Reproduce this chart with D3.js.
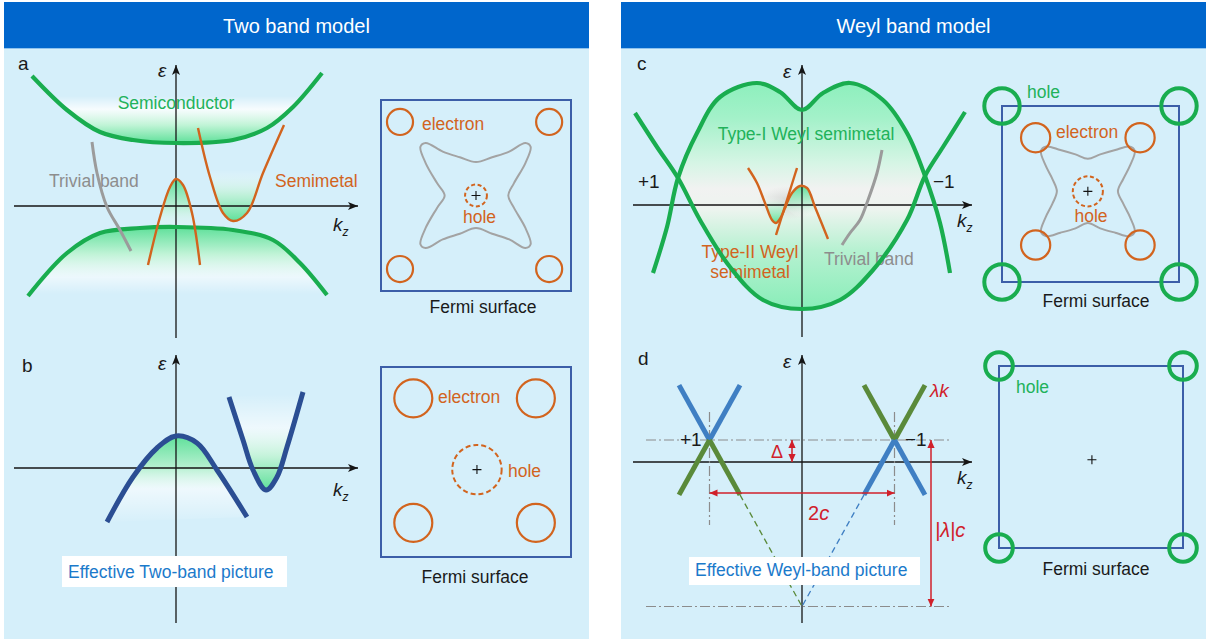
<!DOCTYPE html>
<html>
<head>
<meta charset="utf-8">
<script src="https://cdn.jsdelivr.net/npm/d3@7/dist/d3.min.js"></script>
<style>
html, body { margin: 0; padding: 0; background: #fff; }
svg { display: block; }
text { font-family: "Liberation Sans", Arial, Helvetica, sans-serif; }
</style>
</head>
<body>
<svg id="fig" width="1209" height="639"></svg>
<script>
// ---------------- text ----------------
const headerTitles = ["Two band model", "Weyl band model"];
const panelLetters = ["a", "b", "c", "d"];

// ---------------- band data: [k_z, energy] in plot units ----------------
// a: semiconductor, semimetal and trivial bands
const semiconductorUpper = [[-14.4,13.0],[-10.9,9.6],[-7.6,7.4],[-4.3,6.6],[0,6.3],[5.7,6.6],[9.1,7.8],[11.7,9.9],[14.6,13.3]];
const semiconductorLower = [[-14.8,-9.0],[-10.9,-4.7],[-7.6,-2.7],[-3.6,-2.2],[0,-2.1],[5.7,-2.4],[9.7,-3.4],[12.4,-5.7],[15.1,-8.9]];
const trivialBandA = [[-8.4,6.4],[-7.9,3.3],[-6.9,-0.1],[-5.6,-2.4],[-4.5,-4.5]];
const semimetalHole = [[-2.8,-5.9],[-1.6,-1.1],[-0.6,1.9],[0,2.7],[0.7,2.1],[1.6,-0.7],[2.4,-5.9]];
const semimetalElectron = [[2.2,7.8],[3.4,2.9],[4.7,-0.7],[5.7,-1.5],[7.1,-0.7],[8.7,3.3],[10.8,8.1]];

// b: effective two-band picture
const effectiveHole = [[-6.9,-5.4],[-4.3,-0.9],[-1.9,2.0],[0,3.2],[2.1,2.5],[4.1,-0.2],[7.1,-4.9]];
const effectiveElectron = [[5.3,7.1],[6.7,2.8],[7.7,-0.2],[9.0,-2.2],[10.1,-0.9],[11.1,2.1],[12.7,7.6]];

// c: Weyl semimetal bands
const weylUpper = [[-14.9,-6.8],[-13.5,-2.2],[-12.4,2.7],[-10.5,7.2],[-8.2,10.8],[-4.5,12.2],[-2.2,11.3],[0,9.5],[2.1,11.2],[4.8,12.2],[8.1,10.5],[10.5,7.2],[12.3,2.9],[13.8,-1.8],[14.8,-6.8]];
const weylLower = [[-16.7,9.2],[-14.5,5.8],[-12.4,2.7],[-10.2,-1.5],[-7.2,-6.2],[-3.9,-9.5],[0,-10.4],[3.8,-9.5],[7.1,-6.5],[10.5,-1.5],[12.3,2.9],[14.1,5.8],[16.3,9.3]];
const typeIIValley = [[-5.4,3.7],[-4.5,2.2],[-3.7,0.2],[-3.0,-1.5],[-2.6,-1.8],[-2.1,-1.2],[-1.5,0.3]];
const typeIILine = [[-2.6,-3.0],[-0.5,3.7]];
const typeIIHump = [[-1.7,-0.3],[-1.0,1.2],[-0.2,1.9],[0.5,1.7],[1.3,-0.2],[2.6,-3.4]];
const trivialBandC = [[8.0,5.5],[7.5,3.2],[6.6,0.5],[5.8,-1.5],[4.8,-2.8],[4.0,-4.0]];

// d: effective Weyl-band picture
const weylNodeK = [-9.25, 9.25];
const chiralityLabels = ["+1", "\u22121"];
const nodeEnergy = 2.2;      // Delta
const tiltSlope = 1.8;       // |lambda|
const coneHalfWidth = 3.05;  // extent of each cone arm along k_z

// ---------------- Fermi surfaces: Brillouin-zone units, box spans [-1, 1] ----------------
const fsA_electrons = [[-0.80,0.77],[0.77,0.77],[-0.80,-0.77],[0.77,-0.77]];
const fsA_electronR = 0.137;
const fsA_hole = [0, 0, 0.115];
const fsA_trivial = [[0,0.35],[0.17,0.40],[0.35,0.46],[0.52,0.55],[0.575,0.51],[0.52,0.34],[0.40,0.13],[0.34,0],[0.40,-0.13],[0.52,-0.34],[0.575,-0.51],[0.52,-0.55],[0.35,-0.46],[0.17,-0.40],[0,-0.34],[-0.17,-0.40],[-0.35,-0.46],[-0.53,-0.55],[-0.585,-0.51],[-0.53,-0.34],[-0.41,-0.13],[-0.33,0],[-0.41,0.13],[-0.53,0.34],[-0.585,0.51],[-0.53,0.55],[-0.35,0.46],[-0.17,0.40]];

const fsB_electrons = [[-0.66,0.67],[0.63,0.67],[-0.66,-0.64],[0.63,-0.64]];
const fsB_electronR = 0.2;
const fsB_hole = [0.01, -0.08, 0.26];

const fsC_holes = [[-1,1],[1,1],[-1,-1],[1,-1]];
const fsC_holeR = 0.2;
const fsC_electrons = [[-0.62,0.64],[0.56,0.64],[-0.62,-0.58],[0.56,-0.58]];
const fsC_electronR = 0.165;
const fsC_hole = [-0.03, 0.03, 0.17];
const fsC_trivial = [[0,0.37],[0.14,0.42],[0.31,0.47],[0.47,0.51],[0.53,0.46],[0.48,0.30],[0.40,0.14],[0.34,0],[0.40,-0.14],[0.48,-0.30],[0.53,-0.46],[0.47,-0.51],[0.31,-0.47],[0.14,-0.42],[0,-0.36],[-0.14,-0.42],[-0.31,-0.47],[-0.47,-0.51],[-0.53,-0.46],[-0.48,-0.30],[-0.40,-0.14],[-0.35,0],[-0.40,0.14],[-0.48,0.30],[-0.53,0.46],[-0.47,0.51],[-0.31,0.47],[-0.14,0.42]];

const fsD_holes = [[-1,1],[1,1],[-1,-1],[1,-1]];
const fsD_holeR = 0.15;
const fsD_gamma = [0.01, -0.03];

// ---------------- colours ----------------
const C = {
  header: "#0066cc", panel: "#d5effa", axis: "#151515",
  green: "#19ad4f", greenText: "#22b25a", greenFill: "#5fe09a",
  orange: "#d2641e", gray: "#9b9b9b", grayText: "#8d8d8d",
  navy: "#2b4e93", box: "#3c5ea8", blueText: "#1b7acb",
  coneBlue: "#3f7fc3", coneGreen: "#5a8a3a", red: "#d0202a", guide: "#8c8c8c"
};

const svg = d3.select("#fig");
const defs = svg.append("defs");

// ---------------- helpers ----------------
const smooth = d3.curveCatmullRom.alpha(0.5);
const lineIn = (sx, sy, curve = smooth) => d3.line().x(d => sx(d[0])).y(d => sy(d[1])).curve(curve);

function gradient(id, y1, y2, stops) {
  const g = defs.append("linearGradient").attr("id", id)
    .attr("gradientUnits", "userSpaceOnUse")
    .attr("x1", 0).attr("x2", 0).attr("y1", y1).attr("y2", y2);
  stops.forEach(([o, c, op]) => g.append("stop").attr("offset", o).attr("stop-color", c).attr("stop-opacity", op));
}
function clip(id, d) { defs.append("clipPath").attr("id", id).append("path").attr("d", d); }
function fillRegion(g, clipId, d, gradId) {
  clip(clipId, d);
  g.append("rect").attr("x", 0).attr("y", 0).attr("width", 1209).attr("height", 639)
    .attr("fill", `url(#${gradId})`).attr("clip-path", `url(#${clipId})`);
}
function marker(id, color, d, w) {
  defs.append("marker").attr("id", id).attr("viewBox", `0 -5 ${w} 10`)
    .attr("refX", w).attr("refY", 0).attr("markerWidth", w).attr("markerHeight", 10)
    .attr("markerUnits", "userSpaceOnUse").attr("orient", "auto-start-reverse")
    .append("path").attr("d", d).attr("fill", color);
}
marker("arrowK", C.axis, "M0,-4L10,0L0,4L2.5,0Z", 10);
marker("arrowR", C.red, "M0,-3.6L8,0L0,3.6Z", 8);

function axes(g, sx, sy) {
  const [k0, k1] = sx.domain(), [e0, e1] = sy.domain();
  g.append("line").attr("x1", sx(k0)).attr("x2", sx(k1)).attr("y1", sy(0)).attr("y2", sy(0))
    .attr("stroke", C.axis).attr("stroke-width", 1.3).attr("marker-end", "url(#arrowK)");
  g.append("line").attr("x1", sx(0)).attr("x2", sx(0)).attr("y1", sy(e0)).attr("y2", sy(e1))
    .attr("stroke", C.axis).attr("stroke-width", 1.3).attr("marker-end", "url(#arrowK)");
}
function label(g, x, y, str, opts = {}) {
  return g.append("text").attr("x", x).attr("y", y)
    .attr("font-size", opts.size || 17.5)
    .attr("fill", opts.color || "#1a1a1a")
    .attr("text-anchor", opts.anchor || "start")
    .attr("font-style", opts.italic ? "italic" : null)
    .text(str);
}
function axisLabels(g, ex, ey, kx, ky) {
  label(g, ex, ey, "\u03b5", { italic: true, size: 19 });
  const t = g.append("text").attr("x", kx).attr("y", ky).attr("font-size", 19)
    .attr("font-style", "italic").attr("fill", "#1a1a1a");
  t.append("tspan").text("k");
  t.append("tspan").attr("font-size", 12).attr("dy", 5).text("z");
}
function band(g, pts, sx, sy, color, width, curve) {
  g.append("path").attr("d", lineIn(sx, sy, curve)(pts)).attr("fill", "none")
    .attr("stroke", color).attr("stroke-width", width).attr("stroke-linecap", "butt");
}
function tagBox(g, x, y, w, h, str) {
  g.append("rect").attr("x", x).attr("y", y).attr("width", w).attr("height", h).attr("fill", "#fff");
  label(g, x + 6, y + h - 9, str, { color: C.blueText });
}

// ---------------- panel frames ----------------
[{ x: 4, w: 585 }, { x: 621, w: 585 }].forEach((f, i) => {
  svg.append("rect").attr("x", f.x).attr("y", 48).attr("width", f.w).attr("height", 591).attr("fill", C.panel);
  svg.append("rect").attr("x", f.x).attr("y", 2).attr("width", f.w).attr("height", 46).attr("fill", C.header);
  svg.append("line").attr("x1", f.x).attr("x2", f.x + f.w).attr("y1", 48.5).attr("y2", 48.5)
    .attr("stroke", "#8fc3ee").attr("stroke-width", 1);
  label(svg, f.x + f.w / 2, 33, headerTitles[i], { color: "#fff", size: 20, anchor: "middle" });
});

// ---------------- panel a ----------------
const xA = d3.scaleLinear().domain([-16.2, 18.2]).range([14, 358]);
const yA = d3.scaleLinear().domain([-13.2, 14.1]).range([338, 65]);
const lineA = lineIn(xA, yA);
const gA = svg.append("g");

gradient("gA-up", yA(11.0), yA(6.3), [[0, "#ffffff", 0], [0.28, "#ffffff", 0.8], [0.62, "#c0f4d6", 1], [1, C.greenFill, 1]]);
fillRegion(gA, "clipA-up", lineA(semiconductorUpper) + "Z", "gA-up");
gradient("gA-low", yA(-2.1), yA(-8.8), [[0, C.greenFill, 1], [0.4, "#bff3d6", 1], [0.75, "#ffffff", 0.55], [1, "#ffffff", 0]]);
fillRegion(gA, "clipA-low", lineA(semiconductorLower) + "Z", "gA-low");
gradient("gA-hole", yA(2.7), yA(-2.4), [[0, C.greenFill, 1], [0.55, "#b5f0cf", 0.8], [1, "#ffffff", 0]]);
fillRegion(gA, "clipA-hole", lineA(semimetalHole) + "Z", "gA-hole");
gradient("gA-elec", yA(-1.5), yA(3.6), [[0, C.greenFill, 1], [0.5, "#b9f1d2", 0.85], [1, "#ffffff", 0]]);
fillRegion(gA, "clipA-elec", lineA(semimetalElectron) + "Z", "gA-elec");

axes(gA, xA, yA);
label(gA, 18, 70, panelLetters[0], { size: 19 });
axisLabels(gA, 158, 77, 333, 231);
label(gA, xA(0), 109, "Semiconductor", { color: C.greenText, anchor: "middle" });
label(gA, 49, 187, "Trivial band", { color: C.grayText });
label(gA, 275, 187, "Semimetal", { color: C.orange });

band(gA, semiconductorUpper, xA, yA, C.green, 4.2);
band(gA, semiconductorLower, xA, yA, C.green, 4.2);
band(gA, trivialBandA, xA, yA, C.gray, 3);
band(gA, semimetalHole, xA, yA, C.orange, 2.4);
band(gA, semimetalElectron, xA, yA, C.orange, 2.4);

// ---------------- panel b ----------------
const xB = d3.scaleLinear().domain([-16.2, 18.2]).range([14, 358]);
const yB = d3.scaleLinear().domain([-15.5, 11.3]).range([623, 355]);
const lineB = lineIn(xB, yB);
const gB = svg.append("g");

gradient("gB-hole", yB(3.2), yB(-5.6), [[0, C.greenFill, 1], [0.35, "#b4f0cf", 1], [0.6, "#ffffff", 0.6], [1, "#ffffff", 0]]);
fillRegion(gB, "clipB-hole", lineB(effectiveHole) + "Z", "gB-hole");
gradient("gB-elec", yB(-2.2), yB(7.4), [[0, C.greenFill, 1], [0.35, "#c3f3d9", 1], [0.65, "#ffffff", 0.6], [1, "#ffffff", 0]]);
fillRegion(gB, "clipB-elec", lineB(effectiveElectron) + "Z", "gB-elec");

axes(gB, xB, yB);
label(gB, 22, 372, panelLetters[1], { size: 19 });
axisLabels(gB, 158, 370, 333, 496);
band(gB, effectiveHole, xB, yB, C.navy, 5);
band(gB, effectiveElectron, xB, yB, C.navy, 5);
tagBox(gB, 62, 556, 225, 31, "Effective Two-band picture");

// ---------------- panel c ----------------
const xC = d3.scaleLinear().domain([-16.9, 17.0]).range([633, 972]);
const yC = d3.scaleLinear().domain([-13.2, 14.0]).range([337, 65]);
const lineC = lineIn(xC, yC);
const gC = svg.append("g");

// region enclosed between the two Weyl bands
const up0 = weylUpper[0][0], up1 = weylUpper[weylUpper.length - 1][0];
const lo0 = weylLower[0][0], lo1 = weylLower[weylLower.length - 1][0];
clip("clipC-upper", lineC(weylUpper) + `L${xC(up1)},${yC(-13.2)}L${xC(up0)},${yC(-13.2)}Z`);
clip("clipC-lower", lineC(weylLower) + `L${xC(lo1)},${yC(14)}L${xC(lo0)},${yC(14)}Z`);
gradient("gC-lens", yC(12.4), yC(-10.5), [
  [0, "#8cefbc", 1], [0.16, "#a3f1c9", 1], [0.36, "#d6f5e5", 1], [0.47, "#f1f2f1", 1],
  [0.56, "#edf4ef", 1], [0.74, "#b6f1d1", 1], [1, "#88edb8", 1]]);
gC.append("g").attr("clip-path", "url(#clipC-upper)")
  .append("rect").attr("x", 600).attr("y", 50).attr("width", 400).attr("height", 300)
  .attr("fill", "url(#gC-lens)").attr("clip-path", "url(#clipC-lower)");

// soft haze around the type-II crossing
const haze = defs.append("radialGradient").attr("id", "gC-haze");
haze.append("stop").attr("offset", 0).attr("stop-color", "#b9b9b9").attr("stop-opacity", 0.6);
haze.append("stop").attr("offset", 1).attr("stop-color", "#cfcfcf").attr("stop-opacity", 0);
gC.append("ellipse").attr("cx", xC(-1.5)).attr("cy", yC(0.2)).attr("rx", 30).attr("ry", 17).attr("fill", "url(#gC-haze)");

gradient("gC-valley", yC(-1.8), yC(0.8), [[0, C.greenFill, 1], [0.6, "#b5f0cf", 0.7], [1, "#ffffff", 0]]);
fillRegion(gC, "clipC-valley", lineC(typeIIValley) + "Z", "gC-valley");
gradient("gC-hump", yC(1.9), yC(-1.2), [[0, C.greenFill, 1], [0.6, "#b5f0cf", 0.7], [1, "#ffffff", 0]]);
fillRegion(gC, "clipC-hump", lineC(typeIIHump) + "Z", "gC-hump");

axes(gC, xC, yC);
label(gC, 637, 70, panelLetters[2], { size: 19 });
axisLabels(gC, 783, 78, 957, 227);
label(gC, 806, 140, "Type-I Weyl semimetal", { color: C.greenText, anchor: "middle" });
label(gC, 750, 258, "Type-II Weyl", { color: C.orange, anchor: "middle" });
label(gC, 750, 278, "semimetal", { color: C.orange, anchor: "middle" });
label(gC, 824, 265, "Trivial band", { color: C.grayText });
label(gC, 638, 188, chiralityLabels[0], { size: 19 });
label(gC, 933, 188, chiralityLabels[1], { size: 19 });

band(gC, weylUpper, xC, yC, C.green, 4.2);
band(gC, weylLower, xC, yC, C.green, 4.2);
band(gC, trivialBandC, xC, yC, C.gray, 3);
band(gC, typeIIValley, xC, yC, C.orange, 2.4);
band(gC, typeIILine, xC, yC, C.orange, 2.4, d3.curveLinear);
band(gC, typeIIHump, xC, yC, C.orange, 2.4);

// ---------------- panel d ----------------
const xD = d3.scaleLinear().domain([-16.9, 17.0]).range([633, 972]);
const yD = d3.scaleLinear().domain([-16.1, 10.7]).range([623, 355]);
const gD = svg.append("g");
const vertexE = nodeEnergy - tiltSlope * weylNodeK[1];

axes(gD, xD, yD);

// dash-dot guides
const guide = (x1, y1, x2, y2) => gD.append("line").attr("x1", x1).attr("y1", y1).attr("x2", x2).attr("y2", y2)
  .attr("stroke", C.guide).attr("stroke-width", 1.2).attr("stroke-dasharray", "10,3,2,3");
[nodeEnergy, vertexE].forEach(e => guide(xD(-15.6), yD(e), xD(15.0), yD(e)));
weylNodeK.forEach(k => guide(xD(k), yD(5.0), xD(k), yD(-6.3)));

// dashed continuation of the inner cone arms down to the common vertex
weylNodeK.forEach((k, i) => {
  const s = Math.sign(-k);
  const a = [k + s * coneHalfWidth, nodeEnergy - tiltSlope * coneHalfWidth];
  gD.append("line").attr("x1", xD(a[0])).attr("y1", yD(a[1])).attr("x2", xD(0)).attr("y2", yD(vertexE))
    .attr("stroke", i === 0 ? C.coneGreen : C.coneBlue).attr("stroke-width", 1.3).attr("stroke-dasharray", "6,4");
});

// Weyl cones
weylNodeK.forEach((k, i) => {
  const upperColor = i === 0 ? C.coneBlue : C.coneGreen;
  const lowerColor = i === 0 ? C.coneGreen : C.coneBlue;
  [-1, 1].forEach(side => {
    const dk = side * coneHalfWidth, de = tiltSlope * coneHalfWidth;
    gD.append("line").attr("x1", xD(k)).attr("y1", yD(nodeEnergy)).attr("x2", xD(k + dk)).attr("y2", yD(nodeEnergy + de))
      .attr("stroke", upperColor).attr("stroke-width", 5);
    gD.append("line").attr("x1", xD(k)).attr("y1", yD(nodeEnergy)).attr("x2", xD(k + dk)).attr("y2", yD(nodeEnergy - de))
      .attr("stroke", lowerColor).attr("stroke-width", 5);
  });
});

// red dimension arrows
const dim = (x1, y1, x2, y2) => gD.append("line").attr("x1", x1).attr("y1", y1).attr("x2", x2).attr("y2", y2)
  .attr("stroke", C.red).attr("stroke-width", 1.5)
  .attr("marker-start", "url(#arrowR)").attr("marker-end", "url(#arrowR)");
dim(xD(-1.0), yD(0), xD(-1.0), yD(nodeEnergy));
dim(xD(weylNodeK[0]), yD(-3.1), xD(weylNodeK[1]), yD(-3.1));
dim(xD(12.9), yD(nodeEnergy), xD(12.9), yD(vertexE));

label(gD, 638, 365, panelLetters[3], { size: 19 });
axisLabels(gD, 783, 368, 957, 484);
label(gD, 680, 446, chiralityLabels[0], { size: 19 });
label(gD, 905, 446, chiralityLabels[1], { size: 19 });
label(gD, 930, 397, "\u03bbk", { color: C.red, italic: true, size: 19 });
label(gD, 771, 458, "\u0394", { color: C.red, size: 18 });
const t2c = gD.append("text").attr("x", 808).attr("y", 520).attr("font-size", 20).attr("fill", C.red);
t2c.append("tspan").text("2");
t2c.append("tspan").attr("font-style", "italic").text("c");
label(gD, 935, 537, "|\u03bb|c", { color: C.red, italic: true, size: 20 });
tagBox(gD, 689, 557, 231, 28, "Effective Weyl-band picture");

// ---------------- Fermi surfaces ----------------
function fermiScales(box) {
  const [x0, y0, x1, y1] = box;
  return { x: d3.scaleLinear().domain([-1, 1]).range([x0, x1]), y: d3.scaleLinear().domain([-1, 1]).range([y1, y0]), half: (x1 - x0) / 2 };
}
function fermiBox(g, f) {
  const [x0, x1] = f.x.range(), [y1, y0] = f.y.range();
  g.append("rect").attr("x", x0).attr("y", y0).attr("width", x1 - x0).attr("height", y1 - y0)
    .attr("fill", "none").attr("stroke", C.box).attr("stroke-width", 2);
}
function pockets(g, f, centers, r, color, width, dash) {
  g.selectAll(null).data(centers).join("circle")
    .attr("cx", d => f.x(d[0])).attr("cy", d => f.y(d[1])).attr("r", r * f.half)
    .attr("fill", "none").attr("stroke", color).attr("stroke-width", width)
    .attr("stroke-dasharray", dash || null);
}
function star(g, f, pts, c) {
  g.append("path")
    .attr("d", d3.line().x(d => f.x(d[0] + c[0])).y(d => f.y(d[1] + c[1])).curve(d3.curveCatmullRomClosed.alpha(0.5))(pts))
    .attr("fill", "none").attr("stroke", "#a3a3a3").attr("stroke-width", 2);
}
function gammaMark(g, f, c) {
  const x = f.x(c[0]), y = f.y(c[1]);
  g.append("path").attr("d", `M${x - 4.5},${y}H${x + 4.5}M${x},${y - 4.5}V${y + 4.5}`)
    .attr("stroke", "#111").attr("stroke-width", 1.1);
}

// a
const fA = fermiScales([381, 100, 571, 291]);
const gFA = svg.append("g");
fermiBox(gFA, fA);
star(gFA, fA, fsA_trivial, fsA_hole);
pockets(gFA, fA, fsA_electrons, fsA_electronR, C.orange, 2.2);
pockets(gFA, fA, [fsA_hole], fsA_hole[2], C.orange, 2, "4,2.6");
gammaMark(gFA, fA, fsA_hole);
label(gFA, 422, 130, "electron", { color: C.orange });
label(gFA, 479.5, 223, "hole", { color: C.orange, anchor: "middle" });
label(gFA, 483, 313, "Fermi surface", { anchor: "middle" });

// b
const fB = fermiScales([381, 367, 571, 557]);
const gFB = svg.append("g");
fermiBox(gFB, fB);
pockets(gFB, fB, fsB_electrons, fsB_electronR, C.orange, 2.2);
pockets(gFB, fB, [fsB_hole], fsB_hole[2], C.orange, 2, "5,3");
gammaMark(gFB, fB, fsB_hole);
label(gFB, 438, 403, "electron", { color: C.orange });
label(gFB, 508, 477, "hole", { color: C.orange });
label(gFB, 475, 583, "Fermi surface", { anchor: "middle" });

// c
const fC = fermiScales([1002, 106, 1179, 282]);
const gFC = svg.append("g");
fermiBox(gFC, fC);
star(gFC, fC, fsC_trivial, fsC_hole);
pockets(gFC, fC, fsC_electrons, fsC_electronR, C.orange, 2.2);
pockets(gFC, fC, [fsC_hole], fsC_hole[2], C.orange, 2, "4,2.6");
pockets(gFC, fC, fsC_holes, fsC_holeR, C.green, 4);
gammaMark(gFC, fC, fsC_hole);
label(gFC, 1027, 98, "hole", { color: C.greenText });
label(gFC, 1056, 138, "electron", { color: C.orange });
label(gFC, 1091, 222, "hole", { color: C.orange, anchor: "middle" });
label(gFC, 1096, 307, "Fermi surface", { anchor: "middle" });

// d
const fD = fermiScales([999, 366, 1183, 548]);
const gFD = svg.append("g");
fermiBox(gFD, fD);
pockets(gFD, fD, fsD_holes, fsD_holeR, C.green, 4);
gammaMark(gFD, fD, fsD_gamma);
label(gFD, 1016, 393, "hole", { color: C.greenText });
label(gFD, 1096, 575, "Fermi surface", { anchor: "middle" });
</script>
</body>
</html>
